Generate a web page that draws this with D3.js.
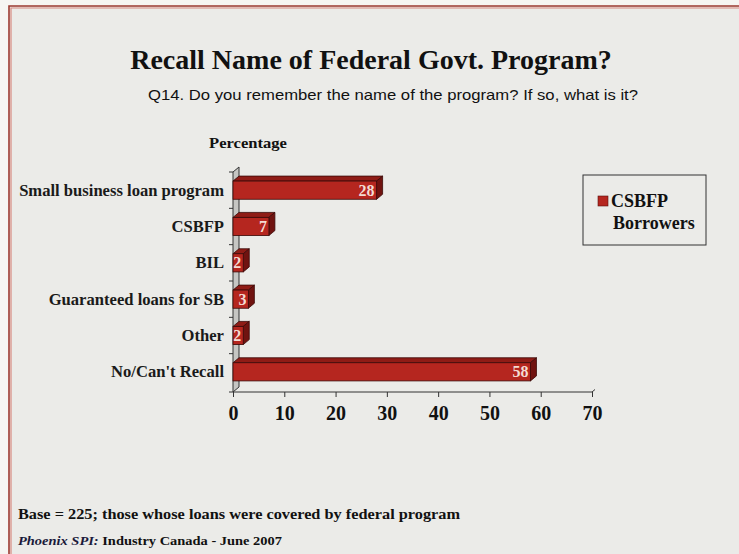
<!DOCTYPE html>
<html>
<head>
<meta charset="utf-8">
<script src="https://cdn.jsdelivr.net/npm/d3@7"></script>
<style>
  html, body { margin: 0; padding: 0; background: #f6f5f2; }
  svg { display: block; }
  .serif { font-family: "Liberation Serif", "Times New Roman", serif; font-weight: bold; }
</style>
</head>
<body>
<svg id="chart" width="739" height="554"></svg>
<script>
// Survey responses: program names recalled by CSBFP borrowers (percent)
const categories = [
  "Small business loan program",
  "CSBFP",
  "BIL",
  "Guaranteed loans for SB",
  "Other",
  "No/Can't Recall"
];
const values = [28, 7, 2, 3, 2, 58];
const tickValues = [0, 10, 20, 30, 40, 50, 60, 70];
const seriesName = ["CSBFP", "Borrowers"];

const svg = d3.select("#chart");

// Panel background with double red frame
svg.append("rect").attr("x", 9).attr("y", 6).attr("width", 760).attr("height", 560)
  .attr("fill", "#ebebe8");
svg.append("path").attr("d", "M9,570 V6 H760").attr("fill", "none")
  .attr("stroke", "#9c3a30").attr("stroke-width", 1.6);
svg.append("path").attr("d", "M11,570 V8 H760").attr("fill", "none")
  .attr("stroke", "#d88a80").attr("stroke-width", 1.2);

// Scales
const x = d3.scaleLinear().domain([0, 70]).range([233, 592]);
const y = d3.scaleBand().domain(categories).range([172, 390])
  .paddingInner(0.5).paddingOuter(0.25);
const depthX = 6, depthY = -5;
const floorY = 392;

// Titles
function fitText(sel, w) {
  const len = sel.node().getComputedTextLength();
  if (Math.abs(len - w) > 2) sel.attr("textLength", w).attr("lengthAdjust", "spacingAndGlyphs");
  return sel;
}
fitText(svg.append("text").attr("class", "serif").attr("x", 371).attr("y", 69)
  .attr("text-anchor", "middle").attr("font-size", 28).attr("fill", "#111")
  .text("Recall Name of Federal Govt. Program?"), 482);
fitText(svg.append("text").attr("x", 393).attr("y", 100)
  .attr("text-anchor", "middle").attr("font-size", 15)
  .attr("font-family", "'Liberation Sans Narrow', 'Arial Narrow', 'Liberation Sans', Arial, sans-serif")
  .attr("fill", "#111")
  .text("Q14. Do you remember the name of the program? If so, what is it?"), 490);
fitText(svg.append("text").attr("class", "serif").attr("x", 209).attr("y", 148)
  .attr("font-size", 15).attr("fill", "#111").text("Percentage"), 78);

// 3D back wall along the category axis
const g = svg.append("g");
g.append("path")
  .attr("d", `M${x(0)},${172} L${x(0) + depthX},${172 + depthY} L${x(0) + depthX},${floorY + depthY} L${x(0)},${floorY} Z`)
  .attr("fill", "#c6c6c3").attr("stroke", "#333").attr("stroke-width", 1);

// Category ticks on the wall
const bandEdges = categories.map(c => y(c) - y.step() * y.paddingInner() / 2);
bandEdges.push(floorY);
bandEdges[0] = 172;
g.selectAll(".ytick").data(bandEdges).join("line")
  .attr("x1", x(0) - 4).attr("x2", x(0))
  .attr("y1", d => d).attr("y2", d => d)
  .attr("stroke", "#333").attr("stroke-width", 1);

// Floor / value axis
const xAxis = d3.axisBottom(x).tickValues(tickValues).tickSize(5).tickFormat(d3.format("d"));
const ax = svg.append("g").attr("transform", `translate(0,${floorY})`).call(xAxis);
ax.select(".domain").attr("stroke", "#333").attr("d", `M${x(0)},0 H${x(70)}`);
ax.selectAll(".tick line").attr("stroke", "#333");
ax.selectAll(".tick text").attr("class", "serif").attr("font-size", 20)
  .attr("fill", "#111").attr("dy", "1.0em");
ax.append("path").attr("d", `M${x(70)},0 l${depthX / 2},${depthY / 2}`).attr("stroke", "#333").attr("fill", "none");

// Bars with top and side faces
const bars = svg.append("g").selectAll("g").data(categories.map((c, i) => ({ c, v: values[i] })))
  .join("g");
bars.each(function(d) {
  const s = d3.select(this);
  const x0 = x(0), x1 = x(d.v), y0 = y(d.c), h = y.bandwidth();
  s.append("path")
    .attr("d", `M${x0},${y0} L${x0 + depthX},${y0 + depthY} L${x1 + depthX},${y0 + depthY} L${x1},${y0} Z`)
    .attr("fill", "#8f1c16").attr("stroke", "#3a0907").attr("stroke-width", 0.8);
  s.append("path")
    .attr("d", `M${x1},${y0} L${x1 + depthX},${y0 + depthY} L${x1 + depthX},${y0 + h + depthY} L${x1},${y0 + h} Z`)
    .attr("fill", "#701310").attr("stroke", "#3a0907").attr("stroke-width", 0.8);
  s.append("rect").attr("x", x0).attr("y", y0).attr("width", x1 - x0).attr("height", h)
    .attr("fill", "#b5261f").attr("stroke", "#3a0907").attr("stroke-width", 0.8);
  s.append("text").attr("class", "serif").attr("x", x1 - 2).attr("y", y0 + h / 2 + 5.5)
    .attr("text-anchor", "end").attr("font-size", 16).attr("fill", "#f3dcd4")
    .text(d.v);
});

// Category labels
svg.append("g").selectAll("text").data(categories).join("text")
  .attr("class", "serif").attr("x", 224).attr("y", d => y(d) + y.bandwidth() / 2 + 5.5)
  .attr("text-anchor", "end").attr("font-size", 16.6).attr("fill", "#1a1a1a")
  .text(d => d);

// Legend
const lg = svg.append("g");
lg.append("rect").attr("x", 583).attr("y", 175).attr("width", 123).attr("height", 70)
  .attr("fill", "none").attr("stroke", "#333").attr("stroke-width", 1);
lg.append("rect").attr("x", 598).attr("y", 196).attr("width", 10).attr("height", 10)
  .attr("fill", "#b5261f").attr("stroke", "#5a0f0b").attr("stroke-width", 0.6);
lg.selectAll(".lt").data(seriesName).join("text")
  .attr("class", "serif").attr("x", (d, i) => i === 0 ? 611 : 613)
  .attr("y", (d, i) => 207 + i * 22).attr("font-size", 18).attr("fill", "#111")
  .text(d => d);

// Footnotes
fitText(svg.append("text").attr("class", "serif").attr("x", 18).attr("y", 519)
  .attr("font-size", 14).attr("fill", "#111")
  .text("Base = 225; those whose loans were covered by federal program"), 442);
const src = svg.append("text").attr("class", "serif").attr("x", 18).attr("y", 545)
  .attr("font-size", 12).attr("fill", "#111");
src.append("tspan").attr("font-style", "italic").attr("fill", "#1a1a3a").text("Phoenix SPI:");
src.append("tspan").text(" Industry Canada - June 2007");
fitText(src, 264);
</script>
</body>
</html>
